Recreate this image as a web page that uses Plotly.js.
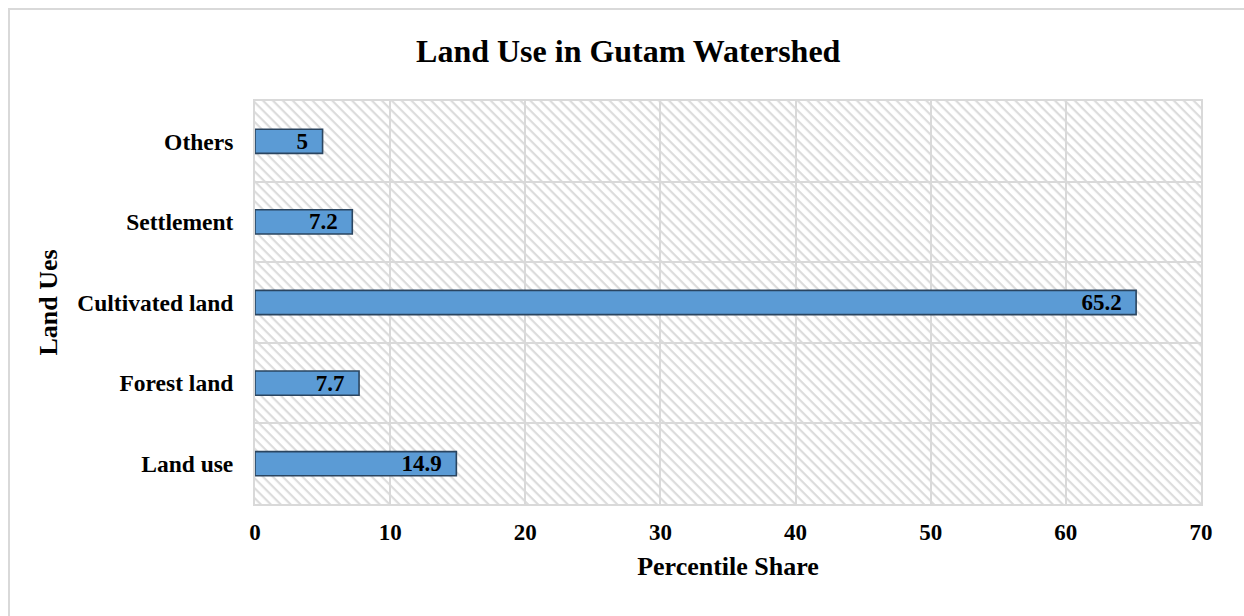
<!DOCTYPE html>
<html>
<head>
<meta charset="utf-8">
<script src="https://cdn.plot.ly/plotly-3.0.1.min.js"></script>
<style>
  html, body { margin: 0; padding: 0; background: #fff; overflow: hidden; }
  #wrap { position: relative; width: 1244px; height: 616px; }
  #frame { position: absolute; left: 8px; top: 8px; width: 1260px; height: 640px;
           border: 2px solid #d9d9d9; box-sizing: border-box; pointer-events: none; z-index: 5; }
  #chart { position: absolute; left: 0; top: 0; width: 1244px; height: 616px; }
</style>
</head>
<body>
<div id="wrap">
  <div id="chart"></div>
  <div id="frame"></div>
</div>
<script>
const categories = ["Land use", "Forest land", "Cultivated land", "Settlement", "Others"];
const shares = [14.9, 7.7, 65.2, 7.2, 5];
const shareLabels = ["14.9", "7.7", "65.2", "7.2", "5"];
const xTicks = [0, 10, 20, 30, 40, 50, 60, 70];

const hatchSvg =
  '<svg xmlns="http://www.w3.org/2000/svg" width="946" height="403" viewBox="0 0 946 403" preserveAspectRatio="none">' +
  '<defs><pattern id="h" width="7" height="7" patternUnits="userSpaceOnUse" patternTransform="rotate(45)">' +
  '<rect width="7" height="7" fill="#ffffff"/><rect x="0" y="0" width="7" height="2.2" fill="#dcdcdc"/></pattern></defs>' +
  '<rect width="946" height="403" fill="url(#h)"/></svg>';
const hatchUri = 'data:image/svg+xml;charset=utf-8,' + encodeURIComponent(hatchSvg);

const serif = '"Liberation Serif", "Times New Roman", serif';
const pad = '\u00A0\u00A0';

const trace = {
  type: 'bar',
  orientation: 'h',
  y: categories,
  x: shares,
  text: shareLabels.map(t => '<b>' + t + '</b>' + pad),
  textposition: 'inside',
  insidetextanchor: 'end',
  textangle: 0,
  constraintext: 'none',
  textfont: { family: serif, size: 23, color: '#000000' },
  marker: { color: '#5b9bd5', line: { color: '#2a4560', width: 1.6 } },
  width: 0.3,
  hoverinfo: 'x+y'
};

const layout = {
  width: 1244,
  height: 616,
  margin: { l: 255, r: 43, t: 101, b: 112 },
  paper_bgcolor: '#ffffff',
  plot_bgcolor: 'rgba(0,0,0,0)',
  showlegend: false,
  font: { family: serif, color: '#000000' },
  title: {
    text: '<b>Land Use in Gutam Watershed</b>',
    font: { family: serif, size: 32, color: '#000000' },
    x: 0.505, xref: 'container', xanchor: 'center',
    y: 50, yref: 'container', yanchor: 'middle'
  },
  xaxis: {
    range: [0, 70],
    tickvals: xTicks,
    ticktext: xTicks.map(v => '<b>' + v + '</b>'),
    tickfont: { family: serif, size: 23, color: '#000000' },
    showgrid: true,
    gridcolor: '#d9d9d9',
    gridwidth: 2,
    zeroline: false,
    showline: true,
    linecolor: '#d9d9d9',
    linewidth: 2,
    mirror: true,
    ticks: '',
    ticklen: 0,
    ticklabelstandoff: 6,
    title: {
      text: '<b>Percentile Share</b>',
      font: { family: serif, size: 26, color: '#000000' },
      standoff: 13
    },
    fixedrange: true
  },
  yaxis: {
    type: 'category',
    categoryorder: 'array',
    categoryarray: categories,
    tickvals: categories,
    ticktext: categories.map(c => '<b>' + c + '</b>'),
    tickson: 'boundaries',
    tickfont: { family: serif, size: 23.5, color: '#000000' },
    showgrid: true,
    gridcolor: '#d9d9d9',
    gridwidth: 2,
    showline: true,
    linecolor: '#d9d9d9',
    linewidth: 2,
    mirror: true,
    ticks: '',
    ticklabelstandoff: 15,
    title: {
      text: '<b>Land Ues</b>',
      font: { family: serif, size: 26, color: '#000000' },
      standoff: 12
    },
    fixedrange: true
  },
  images: [{
    source: hatchUri,
    xref: 'paper', yref: 'paper',
    x: 0, y: 1, sizex: 1, sizey: 1,
    xanchor: 'left', yanchor: 'top',
    sizing: 'stretch',
    layer: 'below'
  }]
};

Plotly.newPlot('chart', [trace], layout, { displayModeBar: false, staticPlot: true });
</script>
</body>
</html>
